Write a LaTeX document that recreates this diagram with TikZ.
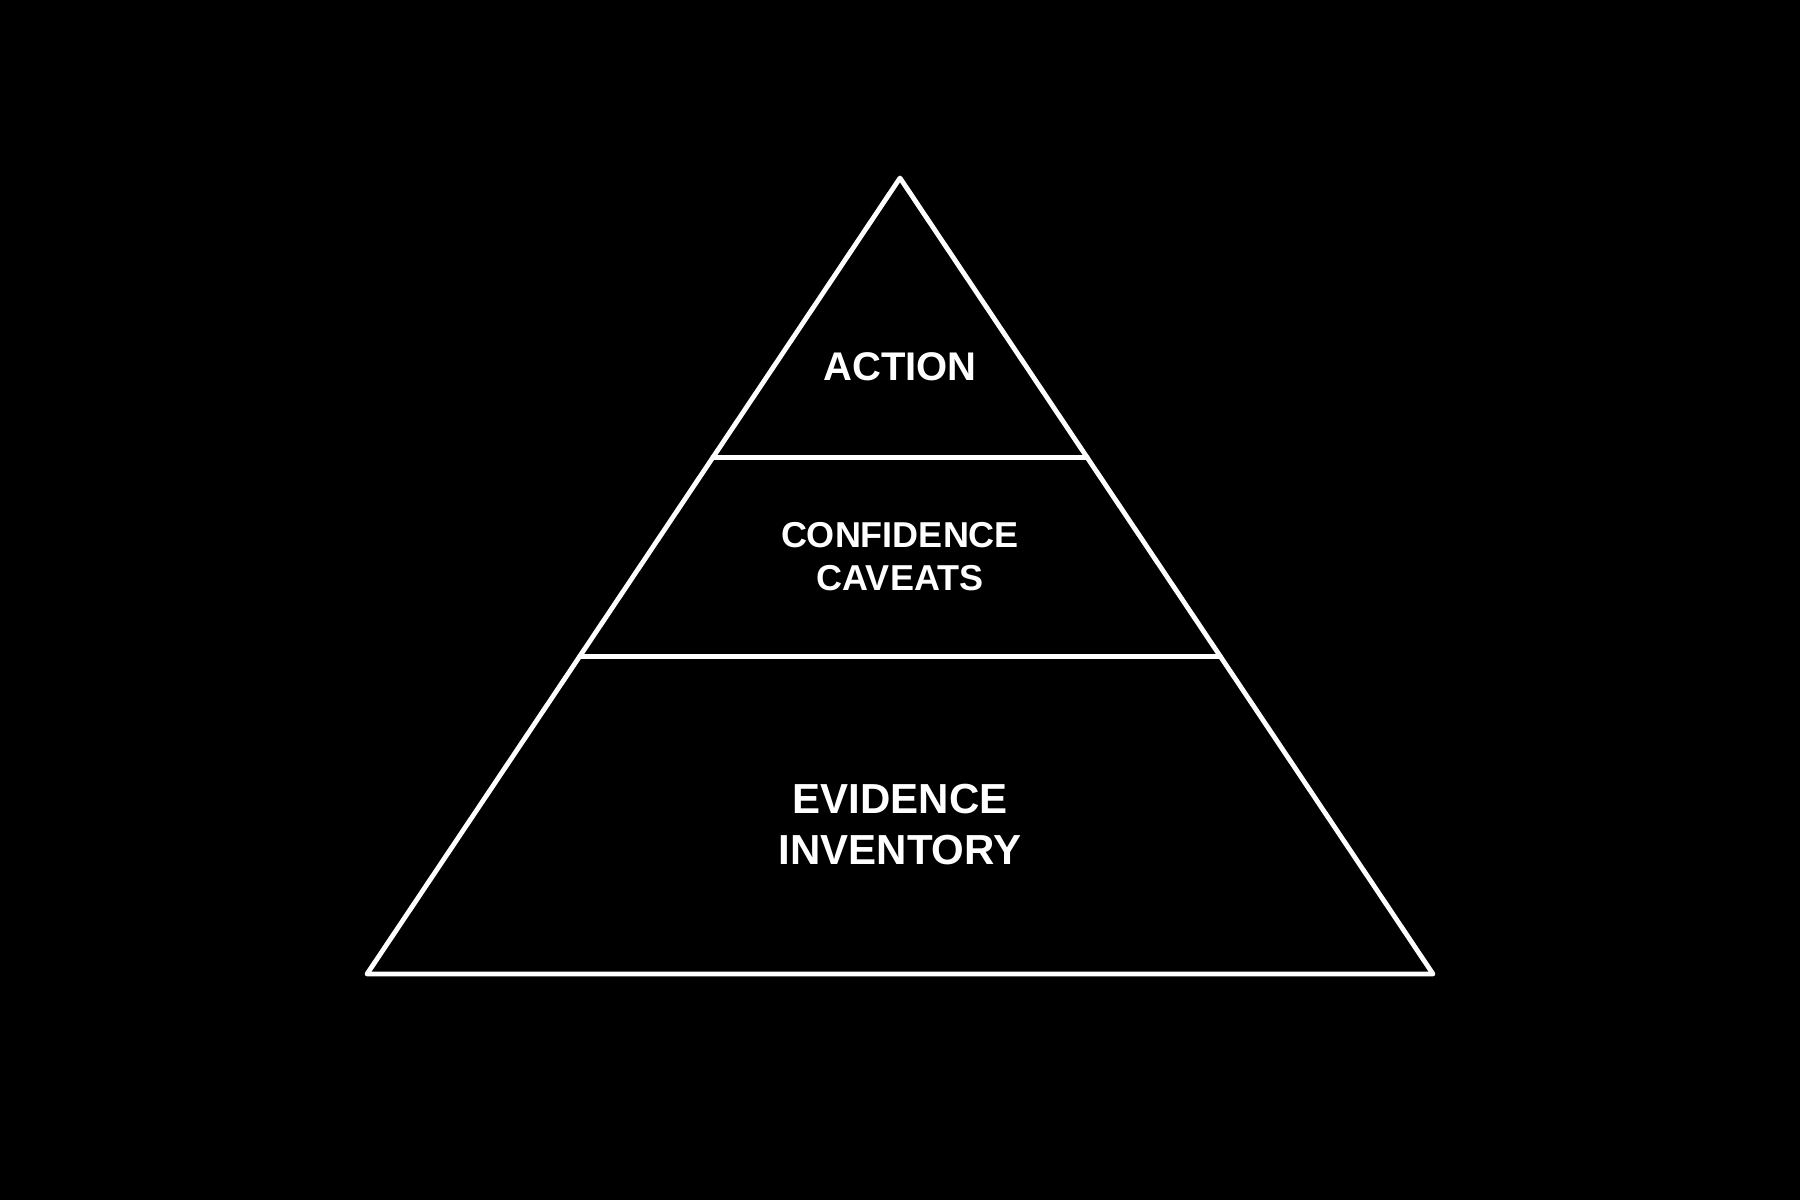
\documentclass[tikz,border=0pt]{standalone}
\usepackage{fontspec}
\setmainfont{Liberation Sans}
\usetikzlibrary{calc}
\begin{document}
\begin{tikzpicture}[x=0.5pt,y=-0.5pt,
  edge/.style={draw=white,line width=2.4pt,line join=round,line cap=round},
  lbl/.style={text=white,align=center,font=\bfseries,inner sep=0pt}]
\fill[black] (0,0) rectangle (1800,1200);
\useasboundingbox (0,0) rectangle (1800,1200);
\coordinate (apex) at (900,178);
\coordinate (bl) at (367,974);
\coordinate (br) at (1433,974);
\coordinate (l1) at ($(apex)!0.351!(bl)$);
\coordinate (r1) at ($(apex)!0.351!(br)$);
\coordinate (l2) at ($(apex)!0.601!(bl)$);
\coordinate (r2) at ($(apex)!0.601!(br)$);
\draw[edge] (apex) -- (bl) -- (br) -- cycle;
\draw[edge] (l1) -- (r1);
\draw[edge] (l2) -- (r2);
\node[lbl,font=\bfseries\fontsize{20pt}{24pt}\selectfont] (action) at (900,367) {ACTION};
\node[lbl,font=\bfseries\fontsize{18pt}{21.5pt}\selectfont] (conf) at (900,557) {CONFIDENCE\\CAVEATS};
\node[lbl,font=\bfseries\fontsize{21pt}{25.5pt}\selectfont] (evid) at (900,825) {EVIDENCE\\INVENTORY};
\end{tikzpicture}
\end{document}
